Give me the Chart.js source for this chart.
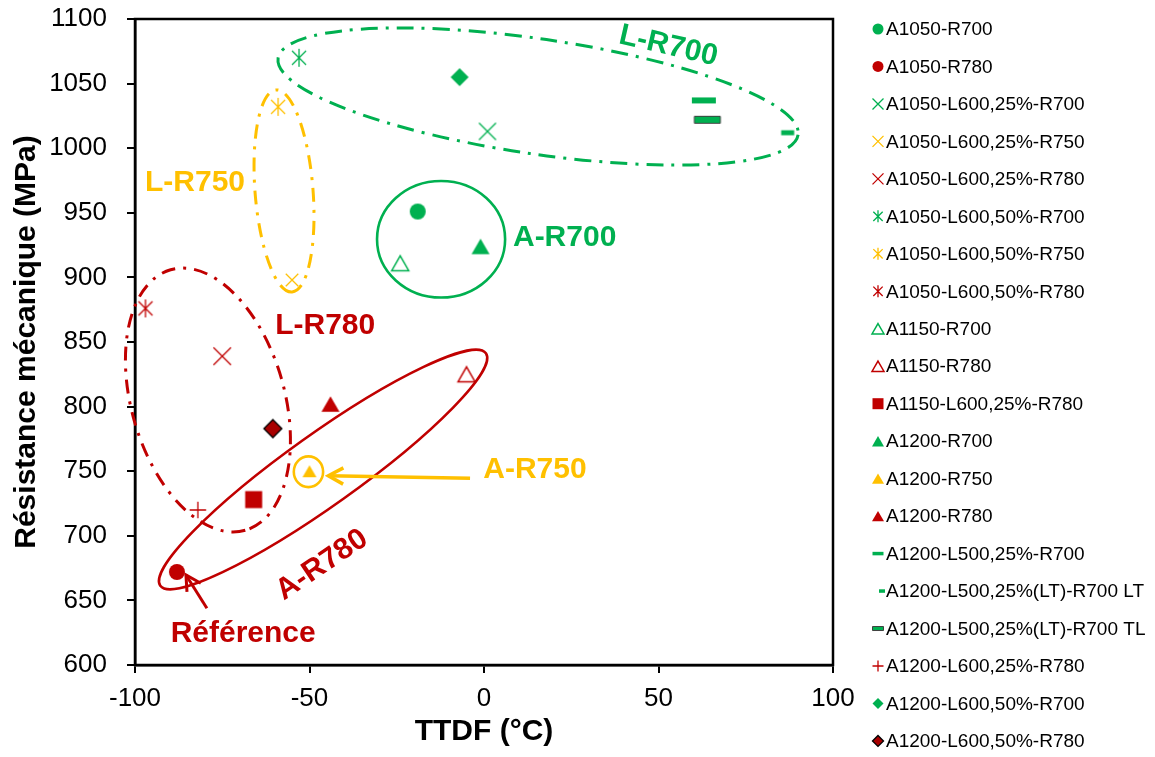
<!DOCTYPE html>
<html>
<head>
<meta charset="utf-8">
<script src="https://cdn.jsdelivr.net/npm/chart.js@4.4.0/dist/chart.umd.min.js"></script>
<style>
  html, body { margin: 0; padding: 0; background: #fff; }
  #wrap { width: 1155px; height: 757px; position: relative; }
</style>
</head>
<body>
<div id="wrap"><canvas id="ttdf"></canvas></div>
<script>
const FONT = "'Liberation Sans', Arial, sans-serif";
const GREEN = '#00B050', RED = '#C00000', YELLOW = '#FFC000';

// data
const seriesNames = [
  'A1050-R700', 'A1050-R780', 'A1050-L600,25%-R700', 'A1050-L600,25%-R750',
  'A1050-L600,25%-R780', 'A1050-L600,50%-R700', 'A1050-L600,50%-R750',
  'A1050-L600,50%-R780', 'A1150-R700', 'A1150-R780', 'A1150-L600,25%-R780',
  'A1200-R700', 'A1200-R750', 'A1200-R780', 'A1200-L500,25%-R700',
  'A1200-L500,25%(LT)-R700 LT', 'A1200-L500,25%(LT)-R700 TL',
  'A1200-L600,25%-R780', 'A1200-L600,50%-R700', 'A1200-L600,50%-R780'
];
const ttdfValues = [-19, -88, 1, -55, -75, -53, -59, -97, -24, -5, -66, -1, -50, -44, 63, 87, 64, -82, -7, -60.5];
const resistanceValues = [951, 672, 1013, 898, 839, 1070, 1032, 876, 911, 825, 728, 924, 750, 802, 1037, 1012, 1022, 720, 1055, 783];
const xTicks = [-100, -50, 0, 50, 100];
const yTicks = [600, 650, 700, 750, 800, 850, 900, 950, 1000, 1050, 1100];

// marker look per series (plot size / legend size in px)
const markerStyles = [
  {kind: 'circle', fill: GREEN, size: 16, lsize: 11},
  {kind: 'circle', fill: RED, size: 16, lsize: 11},
  {kind: 'x', stroke: GREEN, size: 17, lsize: 11, lw: 1.3},
  {kind: 'x', stroke: YELLOW, size: 12.5, lsize: 11, lw: 1.3},
  {kind: 'x', stroke: RED, size: 17.5, lsize: 11, lw: 1.3},
  {kind: 'star', stroke: GREEN, size: 18, lsize: 12, lw: 1.3},
  {kind: 'star', stroke: YELLOW, size: 18, lsize: 12, lw: 1.3},
  {kind: 'star', stroke: RED, size: 18, lsize: 12, lw: 1.3},
  {kind: 'triOpen', stroke: GREEN, size: 17, lsize: 12, lw: 1.5},
  {kind: 'triOpen', stroke: RED, size: 17, lsize: 12, lw: 1.5},
  {kind: 'square', fill: RED, size: 17, lsize: 11},
  {kind: 'tri', fill: GREEN, size: 18, lsize: 12},
  {kind: 'tri', fill: YELLOW, size: 14, lsize: 12},
  {kind: 'tri', fill: RED, size: 18, lsize: 12},
  {kind: 'dash', fill: GREEN, size: 24, h: 6, lsize: 11, lh: 3.5},
  {kind: 'dash', fill: GREEN, size: 13, h: 5, lsize: 6, lh: 3.5, lshift: 4},
  {kind: 'dash', fill: GREEN, size: 26, h: 7, lsize: 11, lh: 4, stroke: '#404040', lw: 1},
  {kind: 'plus', stroke: RED, size: 16.5, lsize: 11, lw: 1.3},
  {kind: 'diamond', fill: GREEN, size: 18, lsize: 11},
  {kind: 'diamond', fill: '#A80000', size: 18, lsize: 11, stroke: '#000', lw: 1.3}
];

// annotations, in axis units
const ellipses = [
  // A-R700
  {cx: -12.3, cy: 929.5, ex: 6.05, ey: 929.5, ratio: 0.91, color: GREEN, width: 2.6, dash: []},
  // A-R780
  {cx: -46.1, cy: 751.3, ex: 0.55, ey: 841.2, ratio: 0.178, color: RED, width: 2.6, dash: []},
  // L-R780
  {cx: -79.1, cy: 805.1, ex: -68.4, ey: 704.3, ratio: 0.565, color: RED, width: 3, dash: [14, 8, 3, 8]},
  // L-R750
  {cx: -57.3, cy: 966.9, ex: -55.0, ey: 888.7, ratio: 0.286, color: YELLOW, width: 3, dash: [14, 8, 3, 8]},
  // L-R700
  {cx: 15.5, cy: 1040, ex: 90.0, ey: 1010.4, ratio: 0.219, color: GREEN, width: 3, dash: [17, 8, 3, 8]},
  // ring round A1200-R750
  {cx: -50.3, cy: 749.6, ex: -46.1, ey: 749.6, ratio: 1.05, color: YELLOW, width: 2.6, dash: []}
];
const arrows = [
  {x1: -4.0, y1: 744.5, x2: -44.6, y2: 746.5, color: YELLOW, width: 3.5},
  {x1: -79.4, y1: 643.9, x2: -85.4, y2: 669.7, color: RED, width: 3}
];
const notes = [
  {text: 'A-R700', x: 8.3, y: 931, color: GREEN, align: 'left', rot: 0},
  {text: 'L-R750', x: -82.8, y: 973, color: YELLOW, align: 'center', rot: 0},
  {text: 'L-R780', x: -45.5, y: 862.4, color: RED, align: 'center', rot: 0},
  {text: 'A-R750', x: 14.6, y: 751, color: YELLOW, align: 'center', rot: 0},
  {text: 'A-R780', x: -46.4, y: 677.4, color: RED, align: 'center', rot: -34},
  {text: 'Référence', x: -69, y: 624, color: RED, align: 'center', rot: 0},
  {text: 'L-R700', x: 52.8, y: 1079, color: GREEN, align: 'center', rot: 13}
];

function drawMarker(ctx, m, x, y, w, h) {
  ctx.save();
  ctx.lineWidth = m.lw || 1;
  ctx.strokeStyle = m.stroke || m.fill;
  ctx.fillStyle = m.fill || 'rgba(0,0,0,0)';
  ctx.beginPath();
  const r = w / 2;
  if (m.kind === 'circle') {
    ctx.arc(x, y, r, 0, 2 * Math.PI);
    ctx.fill();
  } else if (m.kind === 'tri' || m.kind === 'triOpen') {
    const th = w * 0.87;
    ctx.moveTo(x, y - th / 2);
    ctx.lineTo(x + r, y + th / 2);
    ctx.lineTo(x - r, y + th / 2);
    ctx.closePath();
    if (m.kind === 'tri') ctx.fill(); else ctx.stroke();
  } else if (m.kind === 'square') {
    ctx.rect(x - r, y - r, w, w);
    ctx.fill();
  } else if (m.kind === 'diamond') {
    ctx.moveTo(x, y - r);
    ctx.lineTo(x + r, y);
    ctx.lineTo(x, y + r);
    ctx.lineTo(x - r, y);
    ctx.closePath();
    ctx.fill();
    if (m.stroke) ctx.stroke();
  } else if (m.kind === 'x' || m.kind === 'star') {
    const d = m.kind === 'star' ? r * 0.78 : r;
    ctx.moveTo(x - d, y - d); ctx.lineTo(x + d, y + d);
    ctx.moveTo(x + d, y - d); ctx.lineTo(x - d, y + d);
    if (m.kind === 'star') { ctx.moveTo(x, y - r); ctx.lineTo(x, y + r); }
    ctx.stroke();
  } else if (m.kind === 'plus') {
    ctx.moveTo(x - r, y); ctx.lineTo(x + r, y);
    ctx.moveTo(x, y - r); ctx.lineTo(x, y + r);
    ctx.stroke();
  } else if (m.kind === 'dash') {
    ctx.rect(x - r, y - h / 2, w, h);
    ctx.fill();
    if (m.stroke) ctx.stroke();
  }
  ctx.restore();
}

function markerImage(m) {
  const w = m.size, h = m.kind === 'dash' ? m.h : m.size;
  const c = document.createElement('canvas');
  c.width = Math.ceil(w + 4);
  c.height = Math.ceil(h + 4);
  if (c.width % 2) c.width++;
  if (c.height % 2) c.height++;
  drawMarker(c.getContext('2d'), m, c.width / 2, c.height / 2, w, h);
  return c;
}

function drawEllipse(ctx, xs, ys, e) {
  const cx = xs.getPixelForValue(e.cx), cy = ys.getPixelForValue(e.cy);
  const ex = xs.getPixelForValue(e.ex), ey = ys.getPixelForValue(e.ey);
  const a = Math.hypot(ex - cx, ey - cy);
  ctx.save();
  ctx.beginPath();
  ctx.setLineDash(e.dash);
  ctx.lineWidth = e.width;
  ctx.strokeStyle = e.color;
  ctx.ellipse(cx, cy, a, a * e.ratio, Math.atan2(ey - cy, ex - cx), 0, 2 * Math.PI);
  ctx.stroke();
  ctx.restore();
}

function drawArrow(ctx, xs, ys, ar) {
  const x1 = xs.getPixelForValue(ar.x1), y1 = ys.getPixelForValue(ar.y1);
  const x2 = xs.getPixelForValue(ar.x2), y2 = ys.getPixelForValue(ar.y2);
  const ang = Math.atan2(y2 - y1, x2 - x1);
  const head = 17;
  ctx.save();
  ctx.strokeStyle = ar.color;
  ctx.lineWidth = ar.width;
  ctx.lineJoin = 'miter';
  ctx.beginPath();
  ctx.moveTo(x1, y1);
  ctx.lineTo(x2, y2);
  ctx.stroke();
  ctx.beginPath();
  ctx.moveTo(x2 - head * Math.cos(ang - 0.5), y2 - head * Math.sin(ang - 0.5));
  ctx.lineTo(x2, y2);
  ctx.lineTo(x2 - head * Math.cos(ang + 0.5), y2 - head * Math.sin(ang + 0.5));
  ctx.stroke();
  ctx.restore();
}

const annotations = {
  id: 'annotations',
  beforeDatasetsDraw(chart) {
    const {ctx, chartArea: a, scales: {x, y}} = chart;
    ctx.save();
    ctx.strokeStyle = '#000';
    ctx.lineWidth = 2.5;
    ctx.strokeRect(a.left, a.top, a.right - a.left, a.bottom - a.top);
    ctx.restore();

    ellipses.forEach(e => drawEllipse(ctx, x, y, e));
    arrows.forEach(ar => drawArrow(ctx, x, y, ar));

    notes.forEach(n => {
      ctx.save();
      ctx.translate(x.getPixelForValue(n.x), y.getPixelForValue(n.y));
      ctx.rotate(n.rot * Math.PI / 180);
      ctx.font = 'bold 30px ' + FONT;
      ctx.fillStyle = n.color;
      ctx.textAlign = n.align;
      ctx.textBaseline = 'middle';
      ctx.fillText(n.text, 0, 0);
      ctx.restore();
    });
  },
  afterDraw(chart) {
    // legend on the right
    const {ctx, chartArea: a} = chart;
    const top = 29, step = 37.47;
    ctx.save();
    ctx.font = '19px ' + FONT;
    ctx.fillStyle = '#000';
    ctx.textBaseline = 'middle';
    ctx.textAlign = 'left';
    chart.data.datasets.forEach((ds, i) => {
      const m = markerStyles[i];
      const yy = top + i * step;
      const mx = a.right + 45 + (m.lshift || 0);
      drawMarker(ctx, m, mx, yy, m.lsize, m.kind === 'dash' ? m.lh : m.lsize);
      ctx.fillText(ds.label, a.right + 53, yy + 1);
    });
    ctx.restore();
  }
};

Chart.defaults.font.family = FONT;
Chart.defaults.color = '#000';

const datasets = seriesNames.map((name, i) => ({
  label: name,
  data: [{x: ttdfValues[i], y: resistanceValues[i]}],
  pointStyle: markerImage(markerStyles[i]),
  pointRadius: 8,
  showLine: false,
  clip: false
}));

new Chart(document.getElementById('ttdf'), {
  type: 'scatter',
  data: {datasets},
  options: {
    responsive: true,
    maintainAspectRatio: false,
    animation: false,
    events: [],
    layout: {padding: {left: 5, top: 19, right: 322, bottom: 3}},
    plugins: {
      legend: {display: false},
      tooltip: {enabled: false}
    },
    scales: {
      x: {
        type: 'linear',
        min: -100,
        max: 100,
        afterBuildTicks: axis => { axis.ticks = xTicks.map(v => ({value: v})); },
        afterFit: axis => { axis.height = 89; axis.paddingLeft = 0; axis.paddingRight = 0; },
        ticks: {font: {size: 26}, color: '#000', padding: 10, callback: v => String(v)},
        grid: {drawOnChartArea: false, drawTicks: true, tickLength: 8, color: '#000', lineWidth: 2},
        border: {display: true, color: '#000', width: 2.5},
        title: {display: true, text: 'TTDF (°C)', font: {size: 30, weight: 'bold'}, color: '#000', padding: {top: 0, bottom: 4}}
      },
      y: {
        type: 'linear',
        min: 600,
        max: 1100,
        afterBuildTicks: axis => { axis.ticks = yTicks.map(v => ({value: v})); },
        afterFit: axis => { axis.width = 130; axis.paddingTop = 0; axis.paddingBottom = 0; },
        ticks: {font: {size: 26}, color: '#000', padding: 20, callback: v => String(v)},
        grid: {drawOnChartArea: false, drawTicks: true, tickLength: 8, color: '#000', lineWidth: 2},
        border: {display: true, color: '#000', width: 2.5},
        title: {display: true, text: 'Résistance mécanique (MPa)', font: {size: 30, weight: 'bold'}, color: '#000', padding: {top: 4, bottom: 4}}
      }
    }
  },
  plugins: [annotations]
});
</script>
</body>
</html>
